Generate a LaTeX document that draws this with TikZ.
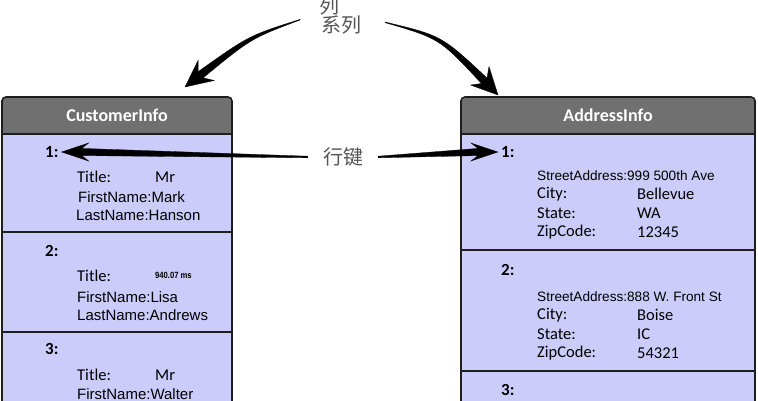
\documentclass[tikz,border=0pt]{standalone}
\usepackage{fontspec}
\setmainfont{Carlito}
\newfontfamily\arial{Liberation Sans}
\newfontfamily\cjk{Noto Sans CJK SC}
\usetikzlibrary{arrows.meta,calc}
\definecolor{hdr}{RGB}{112,112,112}
\definecolor{bodyc}{RGB}{204,204,250}
\definecolor{edge}{RGB}{30,30,30}
\definecolor{cjkgray}{RGB}{85,85,85}
\tikzset{
  lbl/.style={anchor=west, inner sep=0pt, font=\fontsize{16.5}{18}\selectfont},
  ar/.style={anchor=west, inner sep=0pt, font=\arial\fontsize{15}{17}\selectfont},
  arr/.style={anchor=west, inner sep=0pt, font=\arial\fontsize{13.6}{16}\selectfont},
  num/.style={anchor=west, inner sep=0pt, font=\bfseries\fontsize{17}{19}\selectfont},
  head/.style={text=white, inner sep=0pt, font=\bfseries\fontsize{18}{20}\selectfont},
  cjklbl/.style={text=cjkgray, inner sep=1pt, font=\cjk\fontsize{20}{22}\selectfont},
  taper/.style={fill=black, draw=black, line width=0.3pt, line join=miter},
  tbl/.style={draw=edge, line width=1.6pt},
}
\begin{document}
\begin{tikzpicture}[x=1pt,y=-1pt]
\useasboundingbox (0,0) rectangle (758,400);
\clip (0,0) rectangle (758,400);
\fill[white] (0,0) rectangle (758,400);

% ---- left table
\fill[bodyc] (2,134) rectangle (232,405);
\draw[tbl, fill=hdr, rounded corners=4pt] (2,134) -- (2,97) -- (232,97) -- (232,134);
\draw[tbl] (2,134) -- (232,134);
\draw[tbl] (2,134) -- (2,405);
\draw[tbl] (232,134) -- (232,405);
\draw[tbl] (2,232) -- (232,232);
\draw[tbl] (2,332) -- (232,332);
\node[head] (ch) at (117,115) {CustomerInfo};

\node[num] (c1) at (45,152) {1:};
\node[lbl] (c1t) at (77,177) {Title:};
\node[lbl] (c1tv) at (155,177) {Mr};
\node[ar] (c1f) at (78,197) {FirstName:Mark};
\node[ar] (c1l) at (76,215) {LastName:Hanson};

\node[num] (c2) at (45,251) {2:};
\node[lbl] (c2t) at (77,276) {Title:};
\node[inner sep=0pt, anchor=west, font=\arial\bfseries\fontsize{9}{10}\selectfont, xscale=0.85] (c2tv) at (155,275) {940.07 ms};
\node[ar] (c2f) at (77,297) {FirstName:Lisa};
\node[ar] (c2l) at (77,315) {LastName:Andrews};

\node[num] (c3) at (45,349) {3:};
\node[lbl] (c3t) at (77,375) {Title:};
\node[lbl] (c3tv) at (155,375) {Mr};
\node[ar] (c3f) at (77,394) {FirstName:Walter};

% ---- right table
\fill[bodyc] (461,134) rectangle (755,405);
\draw[tbl, fill=hdr, rounded corners=4pt] (461,134) -- (461,97) -- (755,97) -- (755,134);
\draw[tbl] (461,134) -- (755,134);
\draw[tbl] (461,134) -- (461,405);
\draw[tbl] (755,134) -- (755,405);
\draw[tbl] (461,250) -- (755,250);
\draw[tbl] (461,371) -- (755,371);
\node[head] (ah) at (608,115) {AddressInfo};

\node[num] (a1) at (501,152) {1:};
\node[arr] (a1s) at (537,176) {StreetAddress:999 500th Ave};
\node[lbl] (a1c) at (537,194) {City:};
\node[lbl] (a1cv) at (637,194) {Bellevue};
\node[lbl] (a1st) at (537,213) {State:};
\node[lbl] (a1stv) at (637,213) {WA};
\node[lbl] (a1z) at (537,232) {ZipCode:};
\node[lbl] (a1zv) at (637,232) {12345};

\node[num] (a2) at (501,270) {2:};
\node[arr] (a2s) at (537,297) {StreetAddress:888 W. Front St};
\node[lbl] (a2c) at (537,315) {City:};
\node[lbl] (a2cv) at (637,315) {Boise};
\node[lbl] (a2st) at (537,334) {State:};
\node[lbl] (a2stv) at (637,334) {IC};
\node[lbl] (a2z) at (537,353) {ZipCode:};
\node[lbl] (a2zv) at (637,353) {54321};

\node[num] (a3) at (501,390) {3:};

% ---- labels
\node[cjklbl] (lie) at (329,6) {列};
\node[cjklbl] (xl) at (341,25) {系列};
\node[cjklbl] (hj) at (343,157) {行键};

% ---- tapered arrows
\coordinate (ltail) at (300,20);
\coordinate (ltip) at (185,87);
\coordinate (rtail) at (385,22);
\coordinate (rtip) at (498,95);

% column arrow, left
\fill[taper] (ltail) .. controls (251,38.5) .. (203.2,77.8) -- (214.2,80.5) -- (ltip)
  -- (198.2,60.1) -- (198.2,71.6) .. controls (249,35.5) .. ([yshift=0.6pt]ltail) -- cycle;
% column arrow, right
\fill[taper] (rtail) .. controls (441.5,35.5) .. (487,78) -- (489,66.5) -- (rtip)
  -- (470.5,85) -- (481.5,83.5) .. controls (439.5,38.5) .. ([yshift=-0.6pt]rtail) -- cycle;

% row key arrows
\coordinate (hlt) at ([xshift=-14pt]hj.west);
\coordinate (hlp) at ([xshift=3pt]c1.east);
\coordinate (hrt) at ([xshift=14pt]hj.east);
\coordinate (hrp) at ([xshift=-3pt]a1.west);
\fill[taper] ($(hlt)+(0,-0.8)$) -- ($(hlp)+(20,-3.6)$) -- ($(hlp)+(27,-9)$) -- (hlp)
  -- ($(hlp)+(27,9)$) -- ($(hlp)+(20,3.6)$) -- ($(hlt)+(0,0.8)$) -- cycle;
\fill[taper] ($(hrt)+(0,-0.8)$) -- ($(hrp)+(-20,-3.6)$) -- ($(hrp)+(-27,-9)$) -- (hrp)
  -- ($(hrp)+(-27,9)$) -- ($(hrp)+(-20,3.6)$) -- ($(hrt)+(0,0.8)$) -- cycle;
\end{tikzpicture}
\end{document}
